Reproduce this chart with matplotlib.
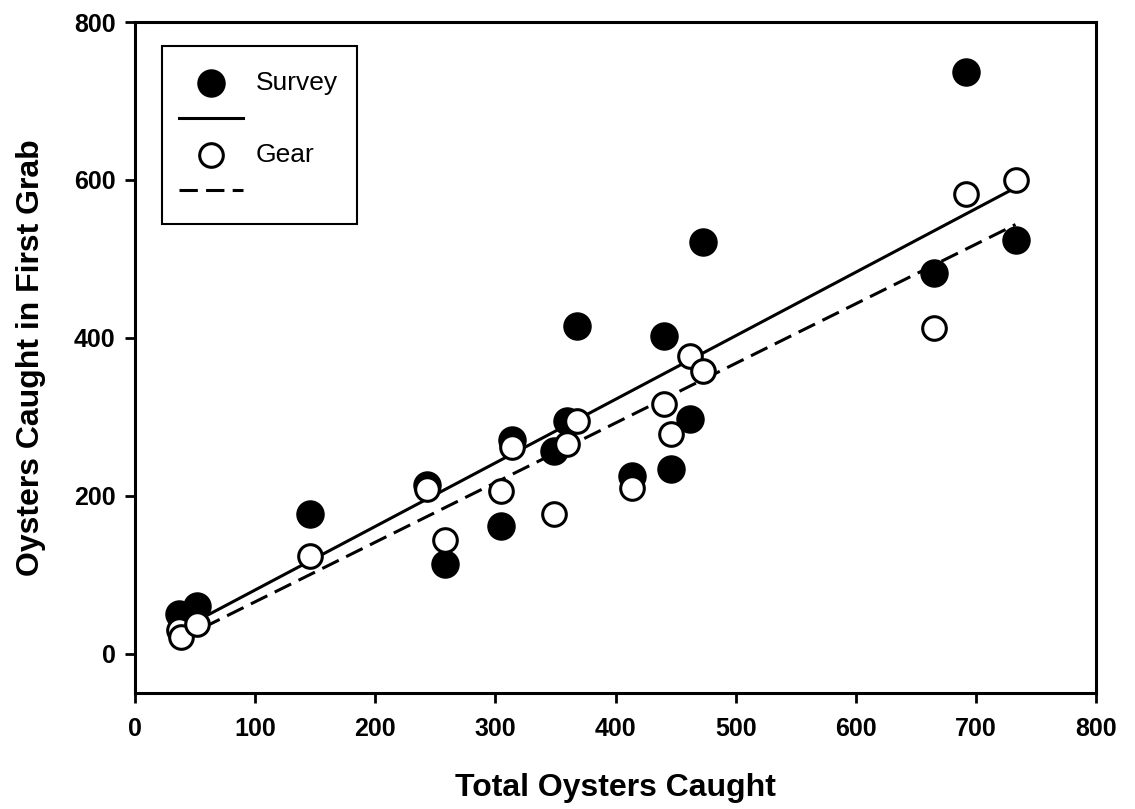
import matplotlib
matplotlib.use("Agg")
import matplotlib.pyplot as plt
from matplotlib import font_manager as fm
from matplotlib.patches import Rectangle
import numpy as np

# choose the regular-width Liberation Sans files (not Narrow)
def find_font(fname_part):
    for f in fm.fontManager.ttflist:
        if f.fname.endswith(fname_part):
            return f.fname
    return None

bold_path = find_font('LiberationSans-Bold.ttf')
reg_path = find_font('LiberationSans-Regular.ttf')

def fp(size, bold=True):
    path = bold_path if bold else reg_path
    if path:
        return fm.FontProperties(fname=path, size=size)
    return fm.FontProperties(family='DejaVu Sans', weight='bold' if bold else 'normal', size=size)

# Survey (filled)
survey_x = [37, 52, 146, 243, 258, 305, 314, 349, 360, 368, 414, 440, 446, 462, 473, 665, 692, 733]
survey_y = [50, 60, 177, 213, 113, 161, 271, 257, 294, 415, 225, 402, 234, 297, 521, 482, 737, 524]
# Gear (open)
gear_x = [37, 38, 52, 146, 243, 258, 305, 314, 349, 360, 368, 414, 440, 446, 462, 473, 665, 692, 733]
gear_y = [30, 21, 37, 124, 208, 144, 206, 262, 177, 266, 294, 210, 316, 278, 377, 358, 413, 582, 600]

# regression lines (intercept, slope)
survey_fit = (0.0, 0.805)
gear_fit = (-10.0, 0.755)

xticks = [0, 100, 200, 300, 400, 500, 600, 700, 800]
yticks = [0, 200, 400, 600, 800]
legend_labels = ['Survey', 'Gear']

W, H = 1135, 809
AX_L, AX_R, AX_T, AX_B = 135, 1096, 22, 693

fig = plt.figure(figsize=(W/100, H/100), dpi=100)
ax = fig.add_axes([AX_L/W, 1 - AX_B/H, (AX_R-AX_L)/W, (AX_B-AX_T)/H])

def axf(px, py):
    return (px - AX_L)/(AX_R - AX_L), (AX_B - py)/(AX_B - AX_T)

dash = (0, (6, 2.7))
s_ms, g_ms, g_mew = 19.5, 17, 2.2

xs = np.array([min(survey_x + gear_x), max(survey_x + gear_x)])
ax.plot(xs, survey_fit[0] + survey_fit[1]*xs, color='black', lw=2.2, zorder=2)
ax.plot(xs, gear_fit[0] + gear_fit[1]*xs, color='black', lw=2.2, ls=dash, zorder=2)

ax.plot(survey_x, survey_y, 'o', ms=s_ms, mfc='black', mec='black', mew=1, zorder=3)
ax.plot(gear_x, gear_y, 'o', ms=g_ms, mfc='white', mec='black', mew=g_mew, zorder=4)

ax.set_xlim(0, 800)
ax.set_ylim(-50, 800)
ax.set_xticks(xticks)
ax.set_yticks(yticks)
ax.set_xticklabels([str(t) for t in xticks], fontproperties=fp(18))
ax.set_yticklabels([str(t) for t in yticks], fontproperties=fp(18))
ax.tick_params(axis='x', direction='out', length=7, width=2, pad=10, top=False)
ax.tick_params(axis='y', direction='out', length=7, width=2, pad=7, right=False)
for s in ax.spines.values():
    s.set_linewidth(2.2)

ax.set_xlabel('Total Oysters Caught', fontproperties=fp(23), labelpad=23)
ax.set_ylabel('Oysters Caught in First Grab', fontproperties=fp(23), labelpad=20)

# legend drawn manually (axes-fraction layout)
tr = ax.transAxes
x0, y0 = axf(162, 224)
x1, y1 = axf(357, 46)
ax.add_patch(Rectangle((x0, y0), x1 - x0, y1 - y0, transform=tr, facecolor='white',
                       edgecolor='black', lw=1.5, zorder=10))
mx, _ = axf(211, 0)
lx0, _ = axf(179, 0)
lx1, _ = axf(243, 0)
tx, _ = axf(256, 0)
_, ys1 = axf(0, 83)
_, yl1 = axf(0, 118)
_, ys2 = axf(0, 155)
_, yl2 = axf(0, 190)
ax.plot([mx], [ys1], 'o', ms=s_ms, mfc='black', mec='black', mew=1, transform=tr, zorder=11, clip_on=False)
ax.plot([lx0, lx1], [yl1, yl1], color='black', lw=2.2, transform=tr, zorder=11, clip_on=False)
ax.plot([mx], [ys2], 'o', ms=g_ms, mfc='white', mec='black', mew=g_mew, transform=tr, zorder=11, clip_on=False)
ax.plot([lx0, lx1], [yl2, yl2], color='black', lw=2.2, ls=dash, transform=tr, zorder=11, clip_on=False)
ax.text(tx, ys1, legend_labels[0], transform=tr, fontproperties=fp(19, bold=False),
        va='center', ha='left', zorder=12)
ax.text(tx, ys2, legend_labels[1], transform=tr, fontproperties=fp(19, bold=False),
        va='center', ha='left', zorder=12)

fig.savefig('out.png', dpi=100)
